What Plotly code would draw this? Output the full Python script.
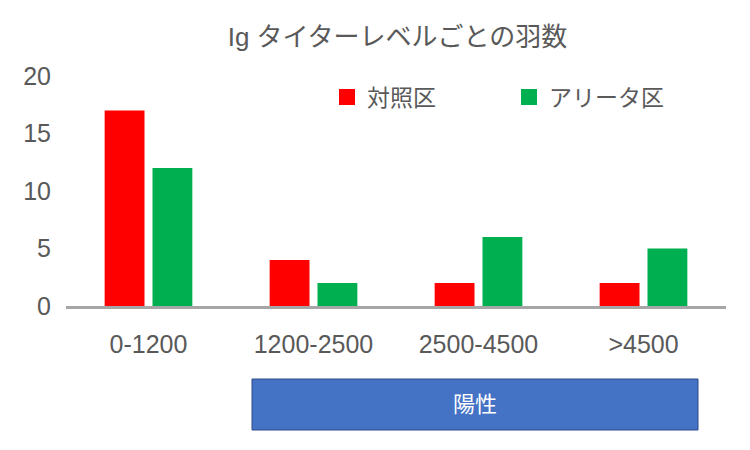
import plotly.graph_objects as go

categories = ["0-1200", "1200-2500", "2500-4500", ">4500"]
control = [17, 4, 2, 2]
alita = [12, 2, 6, 5]
series_names = ["対照区", "アリータ区"]
colors = ["#FF0000", "#00B050"]
y_ticks = [0, 5, 10, 15, 20]
box_label = "陽性"
title = "Ig タイターレベルごとの羽数"

FONT = "Arial, Liberation Sans, Noto Sans CJK JP"
TXT = "#595959"

L, R, T, B = 66, 24, 76, 144
PW, PH = 750 - L - R, 450 - T - B

fig = go.Figure()
for name, vals, col in zip(series_names, [control, alita], colors):
    fig.add_trace(go.Bar(x=categories, y=vals, name=name, marker_color=col,
                         marker_line_width=0, showlegend=False))
# legend markers
for name, col in zip(series_names, colors):
    fig.add_trace(go.Scatter(x=[None], y=[None], mode="markers", name=name,
                             marker=dict(symbol="square", size=19, color=col)))

fig.add_shape(type="rect", xref="paper", yref="paper",
              x0=(252-L)/PW, x1=(698-L)/PW, y0=-(430-306)/PH, y1=-(379-306)/PH,
              fillcolor="#4472C4", line=dict(color="#2F4A8A", width=1))
fig.add_annotation(text=box_label, xref="paper", yref="paper",
                   x=((252+698)/2-L)/PW, y=-((379+430)/2-306)/PH,
                   xanchor="center", yanchor="middle",
                   showarrow=False, font=dict(family=FONT, size=22, color="white"))

fig.update_layout(
    width=750, height=450,
    margin=dict(l=L, r=R, t=T, b=B, autoexpand=False),
    paper_bgcolor="white", plot_bgcolor="white",
    barmode="group", bargap=0.42, bargroupgap=0.167,
    font=dict(family=FONT, size=24, color=TXT),
    title=dict(text=title, x=0.53, xanchor="center", y=1 - 37/450, yanchor="middle",
               font=dict(family=FONT, size=26, color=TXT)),
    legend=dict(orientation="h", x=(327-L)/PW, xanchor="left", y=1 - (97-T)/PH,
                yanchor="middle", font=dict(family=FONT, size=23, color=TXT),
                itemwidth=30, bgcolor="rgba(0,0,0,0)", entrywidth=137,
                entrywidthmode="pixels"),
    xaxis=dict(type="category", range=[-0.5, 3.5], showgrid=False, zeroline=False,
               showline=True, linecolor="#A6A6A6", linewidth=3, ticks="",
               ticklabelstandoff=14, tickfont=dict(family=FONT, size=25, color=TXT)),
    yaxis=dict(range=[0, 20], tickvals=y_ticks, showgrid=False, zeroline=False,
               showline=False, ticks="", ticklabelstandoff=14,
               tickfont=dict(family=FONT, size=25, color=TXT)),
)

fig.write_html("out.html")
